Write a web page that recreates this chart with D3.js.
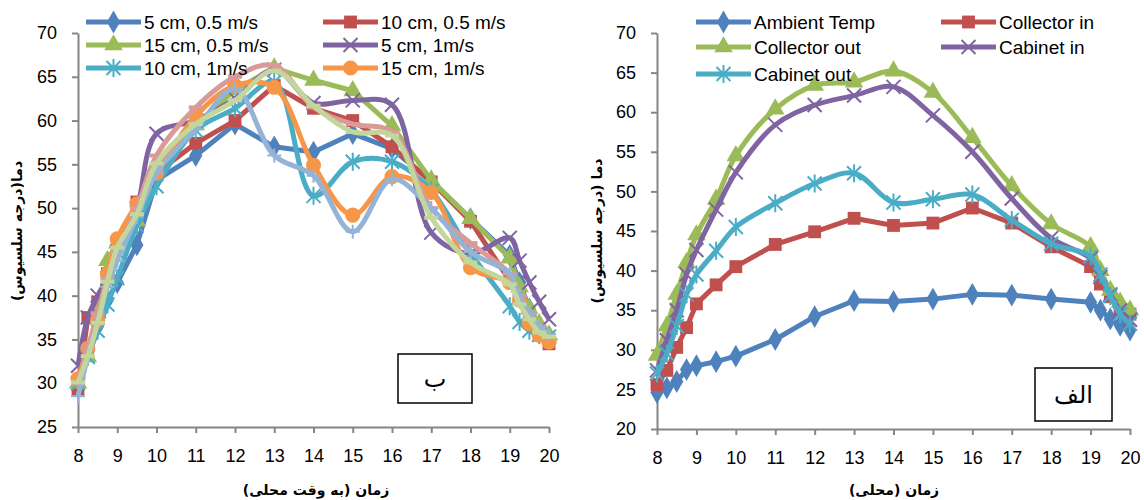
<!DOCTYPE html>
<html>
<head>
<meta charset="utf-8">
<script src="https://cdn.jsdelivr.net/npm/d3@7"></script>
<style>
body { margin: 0; background: #fff; }
text { font-family: "Liberation Sans", Arial, sans-serif; fill: #000; }
.fa { font-family: "DejaVu Sans", sans-serif; }
</style>
</head>
<body>
<div id="chart"></div>
<script>
// time of day (hours)
var times = [8, 8.25, 8.5, 8.75, 9, 9.5, 10, 11, 12, 13, 14, 15, 16, 17, 18, 19, 19.25, 19.5, 19.75, 20];
var xTicks = [8, 9, 10, 11, 12, 13, 14, 15, 16, 17, 18, 19, 20];

// panel "ب" : outlet temperature for bed depth / air speed
var leftNames = ["5 cm, 0.5 m/s", "10 cm, 0.5 m/s", "15 cm, 0.5 m/s", "5 cm, 1m/s", "10 cm, 1m/s", "15 cm, 1m/s", "", "", ""];
var cm5_05  = [29.5, 33.5, 36.5, 39.5, 41.5, 45.8, 53.2, 56.0, 59.6, 57.0, 56.4, 58.5, 56.8, 53.0, 48.8, 44.6, 41.5, 38.5, 36.5, 35.3];
var cm10_05 = [29.3, 37.5, 39.3, 42.5, 45.5, 50.7, 54.0, 57.4, 60.0, 64.0, 61.4, 60.0, 57.0, 53.0, 48.5, 41.7, 39.6, 37.5, 35.5, 34.5];
var cm15_05 = [30.0, 33.0, 38.0, 44.0, 46.0, 48.5, 55.0, 59.5, 63.5, 66.0, 64.6, 63.4, 59.4, 53.2, 48.8, 44.3, 41.0, 38.5, 36.8, 35.5];
var cm5_1   = [32.0, 37.5, 40.0, 42.0, 45.0, 50.0, 58.5, 60.0, 62.5, 65.8, 62.0, 62.3, 61.8, 47.2, 44.8, 46.6, 44.0, 41.5, 39.3, 37.3];
var cm10_1  = [30.0, 33.0, 36.0, 39.0, 42.0, 48.0, 52.5, 58.9, 61.4, 64.4, 51.4, 55.3, 55.3, 52.0, 44.9, 38.8, 37.0, 36.0, 35.5, 35.3];
var cm15_1  = [30.5, 34.0, 37.2, 42.5, 46.5, 50.5, 54.0, 60.5, 64.0, 63.8, 54.9, 49.2, 53.6, 51.8, 43.2, 41.5, 39.5, 36.8, 35.5, 34.7];
var extraA  = [30.0, 34.0, 38.0, 42.0, 45.0, 50.0, 56.0, 61.5, 65.0, 66.3, 61.5, 59.6, 58.7, 50.0, 46.0, 42.5, 40.0, 38.0, 36.5, 35.5];
var extraB  = [28.5, 33.0, 37.0, 41.0, 44.0, 49.0, 54.0, 59.0, 63.6, 56.0, 53.7, 47.3, 53.3, 50.0, 45.0, 42.5, 40.0, 38.0, 36.5, 35.5];
var extraC  = [30.1, 33.1, 36.9, 41.6, 45.5, 49.3, 55.1, 59.6, 62.3, 65.7, 61.7, 58.7, 58.3, 48.9, 43.8, 41.3, 39.0, 37.3, 35.8, 35.3];

// panel "الف" : dryer temperatures
var rightNames = ["Ambient Temp", "Collector in", "Collector out", "Cabinet in", "Cabinet out"];
var ambient    = [24.6, 25.2, 26.0, 27.5, 28.0, 28.5, 29.2, 31.3, 34.2, 36.2, 36.1, 36.4, 37.0, 36.9, 36.4, 36.0, 35.0, 33.9, 33.1, 32.5];
var collIn     = [25.6, 27.4, 30.3, 32.8, 35.8, 38.2, 40.5, 43.3, 44.9, 46.6, 45.7, 46.0, 47.9, 46.0, 43.0, 40.5, 38.3, 36.7, 35.0, 34.5];
var collOut    = [29.3, 33.0, 37.0, 41.0, 44.5, 49.0, 54.5, 60.4, 63.4, 63.8, 65.2, 62.5, 56.8, 50.7, 45.9, 43.0, 40.0, 37.5, 36.0, 35.0];
var cabIn      = [27.4, 31.2, 35.0, 39.5, 42.6, 47.7, 52.4, 58.4, 60.9, 62.1, 63.2, 59.6, 55.0, 49.1, 44.1, 41.5, 39.2, 37.0, 35.0, 33.8];
var cabOut     = [27.0, 29.5, 33.0, 37.0, 39.5, 42.5, 45.5, 48.5, 51.0, 52.3, 48.6, 49.0, 49.6, 46.4, 43.4, 41.8, 39.5, 36.8, 34.5, 33.3];

var leftYTicks = [25, 30, 35, 40, 45, 50, 55, 60, 65, 70];
var rightYTicks = [20, 25, 30, 35, 40, 45, 50, 55, 60, 65, 70];

var svg = d3.select('#chart').append('svg')
    .attr('width', 1144)
    .attr('height', 500);

var leftSeries = [
    {values: cm5_05,  color: '#4F81BD', marker: 'diamond',  smooth: false},
    {values: cm10_05, color: '#C0504D', marker: 'square',   smooth: false},
    {values: cm15_05, color: '#9BBB59', marker: 'triangle', smooth: false},
    {values: cm5_1,   color: '#8064A2', marker: 'x',        smooth: true},
    {values: cm10_1,  color: '#4BACC6', marker: 'star',     smooth: true},
    {values: cm15_1,  color: '#F79646', marker: 'circle',   smooth: true},
    {values: extraA,  color: '#DA9A98', marker: 'dash',     smooth: true},
    {values: extraB,  color: '#95B3D7', marker: 'plus',     smooth: true},
    {values: extraC,  color: '#C3D69B', marker: 'dash',     smooth: true}
];
leftSeries.forEach(function(s, i) { s.name = leftNames[i]; });

var rightSeries = [
    {values: ambient, color: '#4F81BD', marker: 'diamond',  smooth: false},
    {values: collIn,  color: '#C0504D', marker: 'square',   smooth: false},
    {values: collOut, color: '#9BBB59', marker: 'triangle', smooth: true},
    {values: cabIn,   color: '#8064A2', marker: 'x',        smooth: true},
    {values: cabOut,  color: '#4BACC6', marker: 'star',     smooth: true}
];
rightSeries.forEach(function(s, i) { s.name = rightNames[i]; });

drawPanel({
    x0: 78, x1: 549, y0: 33, y1: 427,
    yDomain: [25, 70], yTicks: leftYTicks,
    series: leftSeries,
    legendCols: [86, 323], legendRows: [22, 45, 68], legendLen: 55,
    yTitle: 'دما(درجه سلسیوس)', yTitleX: 17,
    xTitle: 'زمان (به وقت محلی)', xTitleX: 316,
    box: {x: 398, y: 354, w: 74, h: 49, label: 'ب'}
});

drawPanel({
    x0: 657, x1: 1130, y0: 33, y1: 429,
    yDomain: [20, 70], yTicks: rightYTicks,
    series: rightSeries,
    legendCols: [696, 941], legendRows: [22, 47, 74], legendLen: 55,
    yTitle: 'دما (درجه سلسیوس)', yTitleX: 597,
    xTitle: 'زمان (محلی)', xTitleX: 894,
    box: {x: 1035, y: 368, w: 77, h: 53, label: 'الف'}
});

function drawPanel(p) {
    var x = d3.scaleLinear().domain([8, 20]).range([p.x0, p.x1]);
    var y = d3.scaleLinear().domain(p.yDomain).range([p.y1, p.y0]);
    var g = svg.append('g');

    var yAxis = g.append('g')
        .attr('transform', 'translate(' + p.x0 + ',0)')
        .call(d3.axisLeft(y).tickValues(p.yTicks).tickSize(6).tickSizeOuter(0).tickPadding(15));
    var xAxis = g.append('g')
        .attr('transform', 'translate(0,' + p.y1 + ')')
        .call(d3.axisBottom(x).tickValues(xTicks).tickSize(6).tickSizeOuter(0).tickPadding(16));
    [yAxis, xAxis].forEach(function(a) {
        a.select('.domain').attr('stroke', '#868686').attr('stroke-width', 2);
        a.selectAll('.tick line').attr('stroke', '#868686').attr('stroke-width', 2);
        a.selectAll('.tick text').style('font-size', '18px').attr('fill', '#000');
    });

    var line = d3.line()
        .x(function(d, i) { return x(times[i]); })
        .y(function(d) { return y(d); });

    p.series.forEach(function(s) {
        line.curve(s.smooth ? d3.curveCatmullRom.alpha(0.5) : d3.curveLinear);
        g.append('path')
            .datum(s.values)
            .attr('d', line)
            .attr('fill', 'none')
            .attr('stroke', s.color)
            .attr('stroke-width', 5)
            .attr('stroke-linejoin', 'round');
        s.values.forEach(function(v, i) {
            drawMarker(g, s.marker, x(times[i]), y(v), s.color);
        });
    });

    // legend
    p.series.forEach(function(s, i) {
        if (!s.name) return;
        var lx = p.legendCols[i % 2];
        var ly = p.legendRows[Math.floor(i / 2)];
        g.append('line')
            .attr('x1', lx).attr('x2', lx + p.legendLen)
            .attr('y1', ly).attr('y2', ly)
            .attr('stroke', s.color).attr('stroke-width', 5);
        drawMarker(g, s.marker, lx + p.legendLen / 2, ly, s.color);
        g.append('text')
            .attr('x', lx + p.legendLen + 3)
            .attr('y', ly)
            .attr('dy', '0.35em')
            .style('font-size', '19px')
            .text(s.name);
    });

    // axis titles
    g.append('text')
        .attr('class', 'fa')
        .attr('transform', 'translate(' + p.yTitleX + ',231) rotate(-90)')
        .attr('text-anchor', 'middle')
        .attr('dy', '0.35em')
        .style('font-size', '14px')
        .style('font-weight', 'bold')
        .text(p.yTitle);
    g.append('text')
        .attr('class', 'fa')
        .attr('x', p.xTitleX)
        .attr('y', 490)
        .attr('text-anchor', 'middle')
        .attr('dy', '0.35em')
        .style('font-size', '14px')
        .style('font-weight', 'bold')
        .text(p.xTitle);

    // panel label box
    g.append('rect')
        .attr('x', p.box.x).attr('y', p.box.y)
        .attr('width', p.box.w).attr('height', p.box.h)
        .attr('fill', '#fff')
        .attr('stroke', '#000')
        .attr('stroke-width', 1.5);
    g.append('text')
        .attr('class', 'fa')
        .attr('x', p.box.x + p.box.w / 2)
        .attr('y', p.box.y + p.box.h / 2)
        .attr('text-anchor', 'middle')
        .attr('dy', '0.35em')
        .style('font-size', '24px')
        .text(p.box.label);
}

function drawMarker(g, type, cx, cy, color) {
    var t = 'translate(' + cx + ',' + cy + ')';
    if (type === 'diamond' || type === 'square' || type === 'triangle' || type === 'circle') {
        var sym = {diamond: d3.symbolDiamond, square: d3.symbolSquare,
                   triangle: d3.symbolTriangle, circle: d3.symbolCircle}[type];
        var size = {diamond: 150, square: 165, triangle: 150, circle: 180}[type];
        g.append('path')
            .attr('transform', t)
            .attr('d', d3.symbol(sym, size)())
            .attr('fill', color);
        return;
    }
    var d = {
        x: 'M-7,-7L7,7M-7,7L7,-7',
        star: 'M-7,-7L7,7M-7,7L7,-7M0,-9V9',
        plus: 'M-7,0H7M0,-7V7',
        dash: 'M-7,0H7'
    }[type];
    g.append('path')
        .attr('transform', t)
        .attr('d', d)
        .attr('fill', 'none')
        .attr('stroke', color)
        .attr('stroke-width', type === 'dash' ? 4 : 2);
}
</script>
</body>
</html>
